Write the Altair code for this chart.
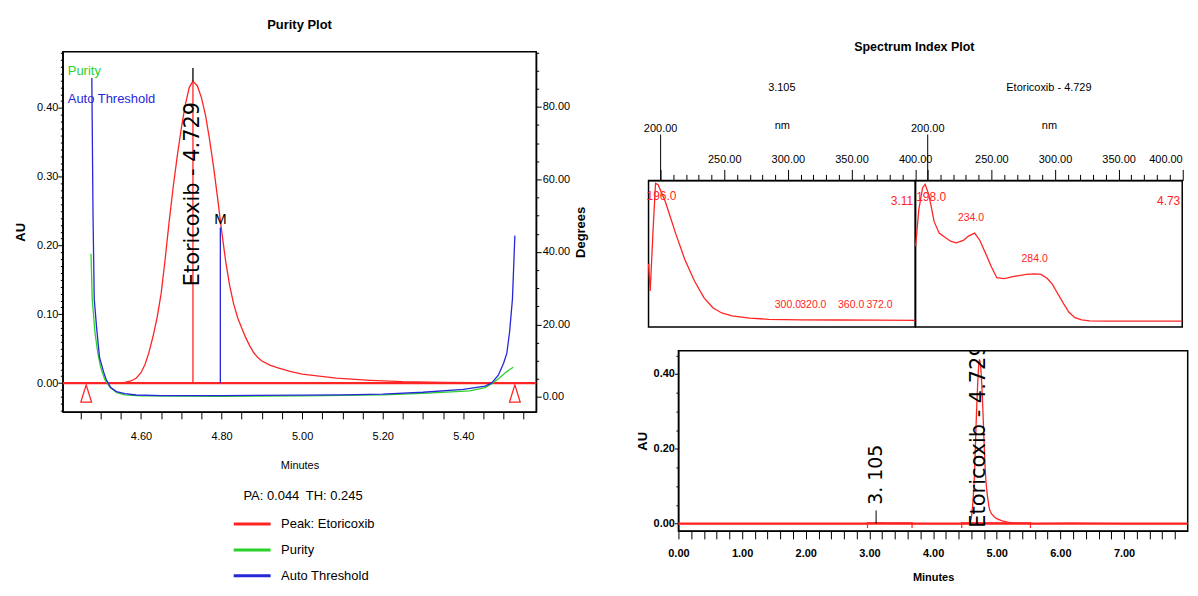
import altair as alt
import pandas as pd

RED = "#ff2424"
GREEN = "#2bd12b"
BLUE = "#2727d9"
SANS = "Liberation Sans, Arial, sans-serif"
WIDE = "DejaVu Sans, Verdana, sans-serif"

compound = "Etoricoxib"

# ---------------- Purity plot data ----------------
peak_time = [4.464, 4.52, 4.56, 4.575, 4.588, 4.60, 4.61, 4.62, 4.63, 4.64, 4.65, 4.66, 4.67,
             4.68, 4.69, 4.70, 4.71, 4.72, 4.729, 4.74, 4.75, 4.76, 4.77, 4.78, 4.79, 4.80,
             4.81, 4.82, 4.83, 4.84, 4.85, 4.86, 4.87, 4.88, 4.89, 4.90, 4.92, 4.94, 4.97,
             5.00, 5.085, 5.17, 5.25, 5.35, 5.528]
peak_au = [0.0, 0.0, 0.001, 0.003, 0.007, 0.015, 0.027, 0.045, 0.068, 0.095, 0.13, 0.18, 0.235,
           0.285, 0.33, 0.37, 0.405, 0.43, 0.439, 0.432, 0.415, 0.39, 0.355, 0.315, 0.27, 0.222,
           0.178, 0.142, 0.115, 0.095, 0.08, 0.066, 0.054, 0.044, 0.037, 0.032, 0.026, 0.022,
           0.017, 0.013, 0.007, 0.004, 0.002, 0.001, 0.0]

thr_time = [4.478, 4.481, 4.484, 4.490, 4.497, 4.507, 4.514, 4.525, 4.539, 4.560, 4.588, 4.650,
            4.800, 5.000, 5.100, 5.200, 5.300, 5.400, 5.454, 5.470, 5.487, 5.500, 5.508, 5.515,
            5.522, 5.528]
thr_deg = [88.0, 50.0, 27.0, 19.0, 11.0, 7.0, 4.7, 2.6, 1.5, 0.9, 0.55, 0.4, 0.4, 0.5, 0.6, 0.8,
           1.3, 2.1, 3.0, 3.8, 6.0, 9.3, 12.0, 18.0, 27.0, 44.5]

pur_time = [4.476, 4.479, 4.486, 4.493, 4.500, 4.510, 4.523, 4.540, 4.560, 4.600, 4.800, 5.000,
            5.200, 5.300, 5.416, 5.454, 5.470, 5.491, 5.508, 5.524]
pur_deg = [39.5, 27.0, 17.6, 12.0, 8.2, 4.8, 2.7, 1.2, 0.6, 0.3, 0.2, 0.3, 0.6, 1.0, 1.7, 2.6,
           3.6, 5.4, 7.0, 8.2]

apex_time = 4.729
apex_au = 0.439
marker_top_au = 0.458
max_time = 4.797
max_au = 0.226
triangle_time = [4.464, 5.528]
series_names = ["Peak: Etoricoxib", "Purity", "Auto Threshold"]
pa_value = 0.044
th_value = 0.245

x_ticks_p = [4.45, 4.5, 4.55, 4.6, 4.65, 4.7, 4.75, 4.8, 4.85, 4.9, 4.95, 5.0, 5.05, 5.1,
             5.15, 5.2, 5.25, 5.3, 5.35, 5.4, 5.45, 5.5, 5.55]
au_ticks = [round(-0.04 + 0.01 * i, 2) for i in range(53)]
deg_ticks = [0, 5, 10, 15, 20, 25, 30, 35, 40, 45, 50, 55, 60, 65, 70, 75, 80, 85, 90, 95]

# ---------------- Spectrum data ----------------
spec1_nm = [190.5, 191.8, 194, 196, 198, 203.6, 208, 212, 219, 226.6, 234, 241, 248, 256, 270,
            285, 310, 340, 370, 400]
spec1_val = [0.43, 0.245, 0.65, 0.98, 0.97, 0.857, 0.74, 0.633, 0.46, 0.313, 0.2, 0.131, 0.095,
             0.075, 0.06, 0.052, 0.048, 0.047, 0.046, 0.045]
spec2_nm = [190.5, 193, 196, 198, 201, 205, 209, 213.7, 218, 222.4, 228, 232, 236.9, 241, 245.6,
            250, 254.3, 260.1, 268, 277.5, 284, 289, 294, 298, 302, 307, 311, 315.7, 321, 327.3,
            340, 370, 400]
spec2_val = [0.551, 0.80, 0.95, 0.973, 0.90, 0.72, 0.64, 0.61, 0.585, 0.574, 0.59, 0.62, 0.64,
             0.59, 0.50, 0.41, 0.336, 0.33, 0.345, 0.358, 0.362, 0.358, 0.33, 0.29, 0.23, 0.156,
             0.10, 0.063, 0.048, 0.041, 0.04, 0.04, 0.04]
spec1_main = [196.0]
spec1_main_val = [0.98]
spec1_minor = [300.0, 320.0, 360.0, 372.0]
spec1_minor_val = [0.048, 0.047, 0.046, 0.046]
spec1_minor_align = ["center", "center", "right", "center"]
spec2_main = [198.0]
spec2_main_val = [0.973]
spec2_minor = [234.0, 284.0]
spec2_minor_val = [0.64, 0.362]
spec2_minor_align = ["center", "center"]
spec1_name = "3.105"
spec2_name = "Etoricoxib - 4.729"
spec1_rt = 3.11
spec2_rt = 4.73
nm_ticks = [200, 210, 220, 230, 240, 250, 260, 270, 280, 290, 300, 310, 320, 330, 340, 350,
            360, 370, 380, 390, 400]

# ---------------- Chromatogram data ----------------
chrom_pre_time = [0.0, 2.97, 3.0, 3.06, 3.105, 3.15, 3.25, 3.67, 4.0, 4.45]
chrom_pre_au = [0.0, 0.0, 0.0005, 0.0015, 0.003, 0.0015, 0.0005, 0.0, 0.0, 0.0]
chrom_post_time = [5.6, 6.0, 6.2, 6.4, 7.0, 8.0]
chrom_post_au = [0.0, 0.0005, 0.001, 0.0005, 0.0, 0.0]
int_start = [2.97, 4.45]
int_end = [3.67, 5.53]
int_level = [0.0017, 0.002]
small_peak_time = 3.105
chrom_x_ticks = [round(0.2 * i, 1) for i in range(40)]
chrom_y_ticks = [0.0, 0.05, 0.1, 0.15, 0.2, 0.25, 0.3, 0.35, 0.4, 0.45]

# ======================================================================
# Purity plot
# ======================================================================
P_W, P_H = 475, 361.3

major01 = "abs(datum.value*10 - round(datum.value*10)) < 0.001"
x_axis_p = alt.Axis(values=x_ticks_p, title="Minutes",
                    labelExpr="abs(datum.value*5 - round(datum.value*5)) < 0.001 ? format(datum.value, '.2f') : ''",
                    tickSize=7, labelPadding=12, labelFont=SANS, labelFontSize=11,
                    titleFont=SANS, titleFontSize=11, titleFontWeight="normal", titlePadding=18)
X_P = alt.X("t:Q", scale=alt.Scale(domain=[4.406, 5.581], nice=False, zero=False), axis=x_axis_p)

au_axis = alt.Axis(values=au_ticks, title="AU",
                   labelExpr=major01 + " ? format(datum.value, '.2f') : ''",
                   tickSize={"condition": {"test": major01, "value": 5}, "value": 2.5},
                   labelPadding=0, labelFont=SANS, labelFontSize=11,
                   titleFont=SANS, titleFontSize=13, titleFontWeight="bold", titlePadding=9)
AU_SCALE = alt.Scale(domain=[-0.042, 0.4816], nice=False, zero=False)


def y_au(field):
    return alt.Y(field, type="quantitative", scale=AU_SCALE, axis=au_axis)


deg_axis = alt.Axis(values=deg_ticks, title="Degrees", orient="right",
                    labelExpr="datum.value % 20 == 0 ? format(datum.value, '.2f') : ''",
                    tickSize={"condition": {"test": "datum.value % 20 == 0", "value": 5}, "value": 2.5},
                    labelPadding=1, labelFont=SANS, labelFontSize=11,
                    titleFont=SANS, titleFontSize=13, titleFontWeight="bold", titlePadding=4.5,
                    titleAngle=270, titleBaseline="top")
DEG_SCALE = alt.Scale(domain=[-4.12, 95.2], nice=False, zero=False)

color = alt.Color("series:N",
                  scale=alt.Scale(domain=series_names, range=[RED, GREEN, BLUE]),
                  legend=alt.Legend(orient="none", legendX=170, legendY=439.3,
                                    title=f"PA: {pa_value:.3f}\u2002TH: {th_value:.3f}",
                                    titleFont=SANS, titleFontSize=13, titleFontWeight="normal",
                                    titleAnchor="middle", titlePadding=12.5, titleColor="black",
                                    symbolType="stroke", symbolStrokeWidth=3, symbolSize=1369,
                                    labelFont=SANS, labelFontSize=13, labelColor="black",
                                    labelOffset=9, clipHeight=18, rowPadding=8))

peak_df = pd.DataFrame({"t": peak_time, "au": peak_au, "series": series_names[0]})
pur_df = pd.DataFrame({"t": pur_time, "deg": pur_deg, "series": series_names[1]})
thr_df = pd.DataFrame({"t": thr_time, "deg": thr_deg, "series": series_names[2]})
base_df = pd.DataFrame({"au": [0.0]})
apex_df = pd.DataFrame({"t": [apex_time], "y0": [0.0], "y1": [apex_au], "y2": [marker_top_au],
                        "label": [f"{compound} - {apex_time}"]})
max_df = pd.DataFrame({"t": [max_time], "y0": [0.0], "y1": [max_au], "label": ["M"]})
tri_df = pd.DataFrame({"t": triangle_time, "au": [-0.0152, -0.0152]})

baseline = alt.Chart(base_df).mark_rule(color=RED, strokeWidth=2.2).encode(y=y_au("au"))
peak_line = alt.Chart(peak_df).mark_line(strokeWidth=1.3).encode(x=X_P, y=y_au("au"), color=color)
apex_red = alt.Chart(apex_df).mark_rule(color=RED, strokeWidth=1.3).encode(
    x=X_P, y=y_au("y0"), y2="y1")
apex_black = alt.Chart(apex_df).mark_rule(color="black", strokeWidth=1.3).encode(
    x=X_P, y=y_au("y1"), y2="y2")
apex_text = alt.Chart(apex_df).mark_text(angle=270, align="center", baseline="middle",
                                         font=WIDE, fontSize=21, color="black").encode(
    x=X_P, y=alt.Y("lab_y:Q", scale=AU_SCALE, axis=au_axis), text="label:N"
).transform_calculate(lab_y="datum.y1 * 0.626")
max_rule = alt.Chart(max_df).mark_rule(color=BLUE, strokeWidth=1.3).encode(
    x=X_P, y=y_au("y0"), y2="y1")
max_text = alt.Chart(max_df).mark_text(baseline="bottom", align="center", dy=-1, font=SANS,
                                       fontSize=15, color="black").encode(
    x=X_P, y=y_au("y1"), text="label:N")
tri = alt.Chart(tri_df).mark_point(shape="M0,-1L0.62,1L-0.62,1Z", size=300, color=RED,
                                   filled=False, strokeWidth=1.3, opacity=1).encode(
    x=X_P, y=y_au("au"))
inset1 = alt.Chart(pd.DataFrame({"l": [series_names[1]]})).mark_text(
    align="left", baseline="middle", font=SANS, fontSize=13, color=GREEN).encode(
    x=alt.value(5), y=alt.value(19), text="l:N")
inset2 = alt.Chart(pd.DataFrame({"l": [series_names[2]]})).mark_text(
    align="left", baseline="middle", font=SANS, fontSize=13, color=BLUE).encode(
    x=alt.value(5), y=alt.value(47), text="l:N")

au_layer = alt.layer(baseline, peak_line, apex_red, apex_black, max_rule, tri, apex_text,
                     max_text, inset1, inset2)

pur_line = alt.Chart(pur_df).mark_line(strokeWidth=1.3).encode(
    x=X_P, y=alt.Y("deg:Q", scale=DEG_SCALE, axis=deg_axis), color=color)
thr_line = alt.Chart(thr_df).mark_line(strokeWidth=1.3).encode(
    x=X_P, y=alt.Y("deg:Q", scale=DEG_SCALE, axis=deg_axis), color=color)
deg_layer = alt.layer(pur_line, thr_line)

left = alt.layer(au_layer, deg_layer).resolve_scale(y="independent").properties(
    width=P_W, height=P_H,
    title=alt.TitleParams("Purity Plot", font=SANS, fontSize=13, fontWeight="bold",
                          anchor="middle", offset=20.3, color="black"))

# ======================================================================
# Spectrum panels
# ======================================================================
S_W, S_H = 267.5, 147
NM_SCALE = alt.Scale(domain=[190.5, 400], nice=False, zero=False)
V_SCALE = alt.Scale(domain=[0, 1], nice=False, zero=False)


def nm_axis(flush):
    return alt.Axis(orient="top", values=nm_ticks, title="nm",
                    labelExpr="datum.value % 50 == 0 && datum.value > 200 ? format(datum.value, '.2f') : ''",
                    tickSize={"condition": {"test": "datum.value % 50 == 0", "value": 11}, "value": 6},
                    labelPadding=4.5, labelFont=SANS, labelFontSize=11, labelFlush=flush,
                    titleFont=SANS, titleFontSize=11, titleFontWeight="normal", titlePadding=24)


def spectrum_panel(nm, val, main_nm, main_val, minor_nm, minor_val, minor_align, name, rt, flush):
    X_S = alt.X("nm:Q", scale=NM_SCALE, axis=nm_axis(flush))
    Y_S = alt.Y("v:Q", scale=V_SCALE, axis=None)
    curve = alt.Chart(pd.DataFrame({"nm": nm, "v": val})).mark_line(
        color=RED, strokeWidth=1.3).encode(x=X_S, y=Y_S)
    start_df = pd.DataFrame({"nm": [200.0], "label": ["200.00"]})
    start_rule = alt.Chart(start_df).mark_rule(color="black", strokeWidth=1).encode(
        x=X_S, y=alt.value(-46), y2=alt.value(0))
    start_text = alt.Chart(start_df).mark_text(font=SANS, fontSize=11, color="black",
                                               baseline="middle").encode(
        x=X_S, y=alt.value(-52), text="label:N")
    main = alt.Chart(pd.DataFrame({"nm": main_nm, "v": main_val})).mark_text(
        font=SANS, fontSize=12, color=RED, baseline="middle", dx=6, dy=13).encode(
        x=X_S, y=Y_S, text=alt.Text("nm:Q", format=".1f"))
    mdf = pd.DataFrame({"nm": minor_nm, "v": minor_val, "al": minor_align})
    minor_c = alt.Chart(mdf).transform_filter("datum.al == 'center'").mark_text(
        font=SANS, fontSize=10.5, color=RED, baseline="middle", align="center", dy=-15).encode(
        x=X_S, y=Y_S, text=alt.Text("nm:Q", format=".1f"))
    layers = [curve, start_rule, start_text, main, minor_c]
    if "right" in minor_align:
        minor_r = alt.Chart(mdf).transform_filter("datum.al == 'right'").mark_text(
            font=SANS, fontSize=10.5, color=RED, baseline="middle", align="right", dy=-15).encode(
            x=X_S, y=Y_S, text=alt.Text("nm:Q", format=".1f"))
        layers.append(minor_r)
    rt_text = alt.Chart(pd.DataFrame({"rt": [rt]})).mark_text(
        font=SANS, fontSize=12, color=RED, align="right", baseline="middle").encode(
        x=alt.value(S_W - 2), y=alt.value(21), text=alt.Text("rt:Q", format=".2f"))
    layers.append(rt_text)
    return alt.layer(*layers).properties(
        width=S_W, height=S_H,
        title=alt.TitleParams(name, font=SANS, fontSize=11, fontWeight="normal",
                              anchor="middle", offset=26, color="black"))


spec1 = spectrum_panel(spec1_nm, spec1_val, spec1_main, spec1_main_val, spec1_minor,
                       spec1_minor_val, spec1_minor_align, spec1_name, spec1_rt, False)
spec2 = spectrum_panel(spec2_nm, spec2_val, spec2_main, spec2_main_val, spec2_minor,
                       spec2_minor_val, spec2_minor_align, spec2_name, spec2_rt, True)
spec_row = alt.hconcat(spec1, spec2, spacing=0, bounds="flush").properties(
    title=alt.TitleParams("Spectrum Index Plot", font=SANS, fontSize=12.5, fontWeight="bold",
                          anchor="middle", offset=28, color="black"))

# ======================================================================
# Chromatogram
# ======================================================================
C_W, C_H = 511, 180.7
T_SCALE = alt.Scale(domain=[0, 8.0], nice=False, zero=False)
C_SCALE = alt.Scale(domain=[-0.0197, 0.462], nice=False, zero=False)
t_axis = alt.Axis(values=chrom_x_ticks, title="Minutes",
                  labelExpr="abs(datum.value - round(datum.value)) < 0.001 ? format(datum.value, '.2f') : ''",
                  tickSize=8, labelPadding=9, labelFont=SANS, labelFontSize=11,
                  labelFontWeight="bold", labelFlush=False,
                  titleFont=SANS, titleFontSize=11, titleFontWeight="bold", titlePadding=12.5)
c_axis = alt.Axis(values=chrom_y_ticks, title="AU",
                  labelExpr="abs(datum.value*5 - round(datum.value*5)) < 0.001 ? format(datum.value, '.2f') : ''",
                  tickSize={"condition": {"test": "abs(datum.value*5 - round(datum.value*5)) < 0.001",
                                          "value": 4}, "value": 2.5},
                  labelPadding=0, labelFont=SANS, labelFontSize=11, labelFontWeight="bold",
                  titleFont=SANS, titleFontSize=13, titleFontWeight="bold", titlePadding=4)


def x_c(field):
    return alt.X(field, type="quantitative", scale=T_SCALE, axis=t_axis)


def y_c(field):
    return alt.Y(field, type="quantitative", scale=C_SCALE, axis=c_axis)


chrom_df = pd.DataFrame({"t": chrom_pre_time + peak_time + chrom_post_time,
                         "au": chrom_pre_au + peak_au + chrom_post_au})
c_base = alt.Chart(base_df).mark_rule(color=RED, strokeWidth=2.2).encode(y=y_c("au"))
c_line = alt.Chart(chrom_df).mark_line(color=RED, strokeWidth=1.3, clip=True).encode(
    x=x_c("t"), y=y_c("au"))
int_df = pd.DataFrame({"t0": int_start, "t1": int_end, "lv": int_level})
int_line = alt.Chart(int_df).mark_rule(color=RED, strokeWidth=1.2).encode(
    x=x_c("t0"), x2="t1", y=y_c("lv"))
ends_df = pd.DataFrame({"t": int_start + int_end, "lo": -0.012, "hi": 0.004})
int_ticks = alt.Chart(ends_df).mark_rule(color=RED, strokeWidth=1.2).encode(
    x=x_c("t"), y=y_c("lo"), y2="hi")
sp_df = pd.DataFrame({"t": [small_peak_time], "lo": [0.0], "hi": [0.035], "ly": [0.05],
                      "label": ["3. 105"]})
sp_rule = alt.Chart(sp_df).mark_rule(color="black", strokeWidth=1).encode(
    x=x_c("t"), y=y_c("lo"), y2="hi")
sp_text = alt.Chart(sp_df).mark_text(angle=270, align="left", baseline="middle", font=WIDE,
                                     fontSize=19, color="black").encode(
    x=x_c("t"), y=y_c("ly"), text="label:N")
et_df = pd.DataFrame({"t": [apex_time], "ly": [-0.011], "label": [f"{compound} - {apex_time}"]})
et_text = alt.Chart(et_df).mark_text(angle=270, align="left", baseline="middle", font=WIDE,
                                     fontSize=21, color="black", clip=True).encode(
    x=x_c("t"), y=y_c("ly"), text="label:N")

chrom = alt.layer(c_base, c_line, int_line, int_ticks, sp_rule, sp_text, et_text).properties(
    width=C_W, height=C_H)


def spacer(w, h):
    return alt.Chart(pd.DataFrame({"s": [0]})).mark_point(opacity=0).encode(
        x=alt.value(0), y=alt.value(0)).properties(
        width=w, height=h, view=alt.ViewBackground(stroke="transparent"))


chrom_row = alt.hconcat(spacer(29.5, C_H), chrom, spacing=0, bounds="flush")
# nested concat rows count as zero height in a flush layout, so spacers carry the offsets
right = alt.vconcat(spacer(1, 128.3), spec_row, spacer(1, 171), chrom_row,
                    spacing=0, bounds="flush")

chart = alt.hconcat(left, right, spacing=112.7, bounds="flush").properties(
    padding={"left": 5, "top": 8, "right": 0, "bottom": 0}
).configure_view(
    stroke="black", strokeWidth=1.5
).configure_axis(
    domainColor="black", tickColor="black", labelColor="black", titleColor="black",
    grid=False, domainWidth=1.2, tickWidth=1
)

chart.save("out.html", embed_options={"renderer": "svg", "actions": False})
